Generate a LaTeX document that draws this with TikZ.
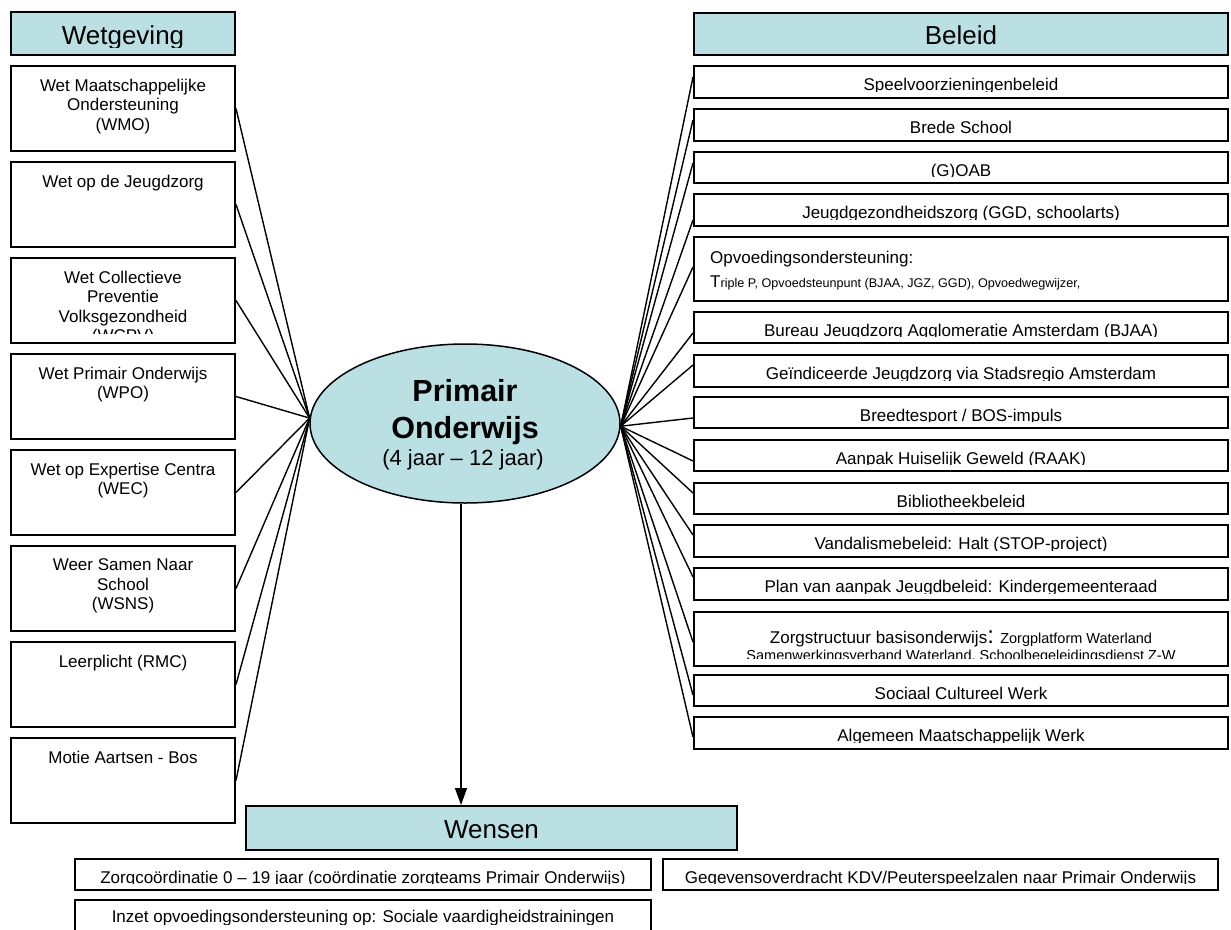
\documentclass[tikz,border=0pt]{standalone}
\usepackage{fontspec}
\setmainfont{Liberation Sans}
\usetikzlibrary{shapes.geometric,arrows.meta}
\definecolor{hdr}{RGB}{187,224,227}
\tikzset{
  box/.style={draw=black, line width=2pt, fill=white, rectangle, inner sep=0pt},
  hbox/.style={box, fill=hdr},
  bbox/.style={box, line width=1.5pt},
  con/.style={line width=1.4pt},
  txt/.style={inner sep=0pt, anchor=base, font=\fontsize{17}{19.5}\selectfont},
  ltxt/.style={inner sep=0pt, anchor=north, align=center, font=\fontsize{17}{19.5}\selectfont},
  htxt/.style={inner sep=0pt, anchor=base, font=\fontsize{26}{30}\selectfont},
}
\newcommand\LBox[3]{%
  \node[box, minimum width=224pt, minimum height=85pt] (#1) at (123,#2+42.5) {};
  \begin{scope}
    \clip (11,#2) rectangle (235,#2+75);
    \node[ltxt] (#1t) at (123,#2+12.7) {#3};
  \end{scope}
  \draw[con] (#1.east) -- (lc);
}
\newcommand\RBoxE[4]{%
  \node[box, minimum width=534pt, minimum height={#3-#2}] (#1) at (961,{(#2+#3)/2}) {};
  \draw[con] ([yshift=#4pt]#1.west) -- (rc);
}
\newcommand\RBox[5]{%
  \RBoxE{#1}{#2}{#3}{#5}
  \begin{scope}
    \clip (694,#2) rectangle (1228,#3-7);
    \node[txt] (#1t) at (961,{(#2+#3)/2+8.5}) {#4};
  \end{scope}
}
\begin{document}
\begin{tikzpicture}[x=1pt,y=-1pt]
\useasboundingbox (0,0) rectangle (1231,929);

% central ellipse
\node[ellipse, draw=black, line width=1.5pt, fill=hdr, minimum width=310pt, minimum height=159pt, inner sep=0pt] (po) at (465,423.5) {};
\coordinate (lc) at (po.178);
\coordinate (rc) at (po.359);
\node[inner sep=0pt, anchor=base, font=\fontsize{30.5}{36}\selectfont\bfseries] (po1) at (465,401) {Primair};
\node[inner sep=0pt, anchor=base, font=\fontsize{30.5}{36}\selectfont\bfseries] (po2) at (465,438) {Onderwijs};
\node[inner sep=0pt, anchor=base, font=\fontsize{22}{26}\selectfont] (po3) at (463,465) {(4 jaar – 12 jaar)};

% left header
\node[hbox, minimum width=224pt, minimum height=43pt] (wet) at (123,33.5) {};
\begin{scope}
  \clip (11,12) rectangle (235,47);
  \node[htxt] (wett) at (123,44.5) {Wetgeving};
\end{scope}

\LBox{wmo}{66}{Wet Maatschappelijke\\Ondersteuning\\(WMO)}
\LBox{wjz}{162}{Wet op de Jeugdzorg}
\LBox{wcp}{258}{Wet Collectieve\\Preventie\\Volksgezondheid\\(WCPV)}
\LBox{wpo}{354}{Wet Primair Onderwijs\\(WPO)}
\LBox{wec}{450}{Wet op Expertise Centra\\(WEC)}
\LBox{wsn}{546}{Weer Samen Naar\\School\\(WSNS)}
\LBox{lpl}{642}{Leerplicht (RMC)}
\LBox{mot}{738}{Motie Aartsen - Bos}

% right header
\node[hbox, minimum width=534pt, minimum height=42pt] (bel) at (961,34) {};
\begin{scope}
  \clip (694,13) rectangle (1228,47);
  \node[htxt] (belt) at (961,44.5) {Beleid};
\end{scope}

\RBox{sp}{66}{98}{Speelvoorzieningenbeleid}{5}
\RBox{br}{109}{141}{Brede School}{5}
\RBox{go}{152}{183}{(G)OAB}{4.5}
\RBox{jg}{194}{226}{Jeugdgezondheidszorg (GGD, schoolarts)}{-10}
\RBoxE{op}{237}{301}{2}
\node[txt, anchor=base west] (op1) at (710,263) {Opvoedingsondersteuning:};
\node[txt, anchor=base west] (op2) at (710,287) {T{\fontsize{12.6}{15}\selectfont riple P, Opvoedsteunpunt (BJAA, JGZ, GGD), Opvoedwegwijzer,}};
\RBox{bj}{312}{343}{Bureau Jeugdzorg Agglomeratie Amsterdam (BJAA)}{-5.5}
\RBox{ge}{355}{387}{Geïndiceerde Jeugdzorg via Stadsregio Amsterdam}{6}
\RBox{bs}{397}{428}{Breedtesport / BOS-impuls}{-5.5}
\RBox{aa}{440}{471}{Aanpak Huiselijk Geweld (RAAK)}{-5.5}
\RBox{bi}{483}{514}{Bibliotheekbeleid}{5.5}
\RBox{va}{525}{557}{Vandalismebeleid: Halt (STOP-project)}{6}
\RBox{pl}{568}{600}{Plan van aanpak Jeugdbeleid: Kindergemeenteraad}{7}
\RBoxE{zs}{612}{666}{-3}
\begin{scope}
  \clip (694,612) rectangle (1228,658);
  \node[txt] (zs1) at (961,643) {Zorgstructuur basisonderwijs{\fontsize{24}{28}\selectfont :} {\fontsize{14.5}{17}\selectfont Zorgplatform Waterland}};
  \node[txt, font=\fontsize{14.5}{17}\selectfont] (zs2) at (961,660) {Samenwerkingsverband Waterland, Schoolbegeleidingsdienst Z-W};
\end{scope}
\RBox{sc}{675}{706}{Sociaal Cultureel Werk}{-4.5}
\RBox{am}{717}{749}{Algemeen Maatschappelijk Werk}{-4}

% Wensen
\node[hbox, minimum width=491pt, minimum height=44pt] (wen) at (491.5,828) {};
\begin{scope}
  \clip (246,806) rectangle (737,843);
  \node[htxt] (went) at (491.5,838) {Wensen};
\end{scope}
\coordinate (ab) at ([xshift=-4pt]po.south);
\draw[con, -{Triangle[length=17pt,width=12pt]}] (ab) -- (ab |- wen.north);

\node[bbox, minimum width=576pt, minimum height=31pt] (zc) at (363,874.5) {};
\node[bbox, minimum width=555pt, minimum height=31pt] (gv) at (940.5,874.5) {};
\node[bbox, minimum width=576pt, minimum height=34pt] (iz) at (363,917) {};
\begin{scope}
  \clip (75,859) rectangle (651,883.5);
  \node[txt] (zct) at (363,883) {Zorgcoördinatie 0 – 19 jaar (coördinatie zorgteams Primair Onderwijs)};
\end{scope}
\begin{scope}
  \clip (663,859) rectangle (1218,883.5);
  \node[txt] (gvt) at (940.5,883) {Gegevensoverdracht KDV/Peuterspeelzalen naar Primair Onderwijs};
\end{scope}
\begin{scope}
  \clip (75,900) rectangle (651,924);
  \node[txt] (izt) at (363,922) {Inzet opvoedingsondersteuning op: Sociale vaardigheidstrainingen};
\end{scope}
\end{tikzpicture}
\end{document}
